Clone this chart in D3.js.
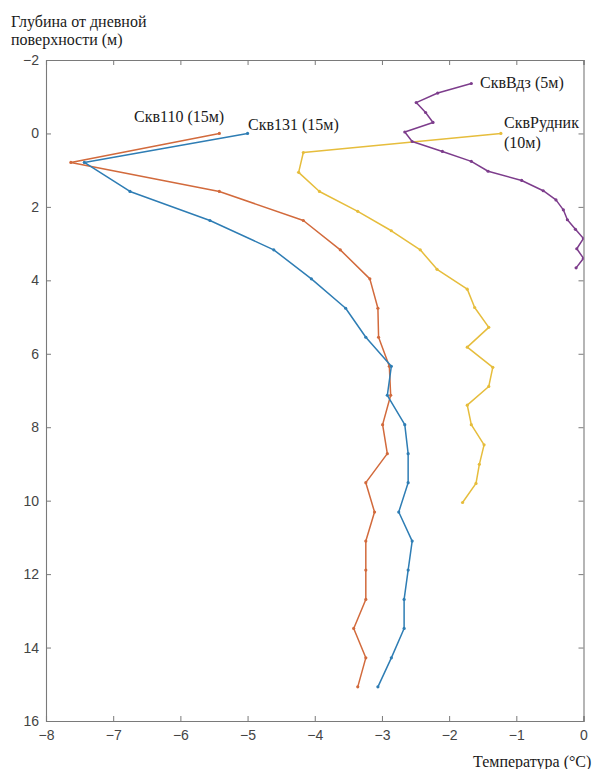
<!DOCTYPE html>
<html><head><meta charset="utf-8">
<script src="https://cdn.jsdelivr.net/npm/d3@7"></script>
<style>body{margin:0;background:#fff}svg{display:block}</style>
</head><body>
<svg id="c" width="595" height="769"></svg>
<script>
// Data
const depth110 = [0,0.79,1.58,2.37,3.17,3.96,4.76,5.55,6.34,7.13,7.93,8.72,9.51,10.31,11.1,11.89,12.69,13.48,14.28,15.07];
const temp110  = [-5.42,-7.63,-5.42,-4.17,-3.62,-3.18,-3.06,-3.05,-2.89,-2.87,-2.99,-2.92,-3.24,-3.11,-3.24,-3.24,-3.24,-3.42,-3.24,-3.36];
const depth131 = [0,0.79,1.58,2.37,3.17,3.96,4.76,5.55,6.34,7.13,7.93,8.72,9.51,10.31,11.1,11.89,12.69,13.48,14.28,15.07];
const temp131  = [-5.0,-7.43,-6.75,-5.56,-4.61,-4.05,-3.54,-3.24,-2.86,-2.92,-2.66,-2.61,-2.61,-2.75,-2.55,-2.61,-2.67,-2.67,-2.86,-3.06];
const depthRud = [0,0.52,1.06,1.58,2.12,2.65,3.17,3.7,4.24,4.74,5.28,5.82,6.37,6.89,7.4,7.93,8.48,9.01,9.53,10.05];
const tempRud  = [-1.23,-4.17,-4.24,-3.93,-3.36,-2.86,-2.43,-2.18,-1.73,-1.62,-1.41,-1.73,-1.35,-1.41,-1.73,-1.67,-1.48,-1.55,-1.6,-1.8];
const depthVdz = [-1.36,-1.1,-0.84,-0.57,-0.3,-0.04,0.22,0.49,0.76,1.03,1.28,1.56,1.81,2.08,2.35,2.61,2.86,3.14,3.4,3.66];
const tempVdz  = [-1.67,-2.17,-2.49,-2.35,-2.24,-2.66,-2.55,-2.1,-1.67,-1.42,-0.92,-0.6,-0.41,-0.3,-0.24,-0.12,0.0,-0.1,0.0,-0.11];
const xTicks = [-8,-7,-6,-5,-4,-3,-2,-1,0];
const yTicks = [-2,0,2,4,6,8,10,12,14,16];
const seriesNames = ["Скв110 (15м)","Скв131 (15м)","СквРудник","СквВдз (5м)"];

const series = [
  {t: temp110, d: depth110, color: "#d26a3c"},
  {t: temp131, d: depth131, color: "#2e7db4"},
  {t: tempRud, d: depthRud, color: "#e6bd3c"},
  {t: tempVdz, d: depthVdz, color: "#7d3d8c"}
];

const svg = d3.select("#c");
const L = 46, R = 583.5, T = 60, B = 721;
const x = d3.scaleLinear().domain([-8,0]).range([L,R]);
const y = d3.scaleLinear().domain([-2,16]).range([T,B]);

const axisColor = "#7a7a7a", labelColor = "#444";

svg.append("defs").append("clipPath").attr("id","clip")
  .append("rect").attr("x",L).attr("y",T).attr("width",R-L).attr("height",B-T);

const gx = svg.append("g").attr("transform",`translate(0,${B})`)
  .call(d3.axisBottom(x).tickValues(xTicks).tickSize(-5).tickPadding(8).tickFormat(d3.format("d")));
const gxt = svg.append("g").attr("transform",`translate(0,${T})`)
  .call(d3.axisTop(x).tickValues(xTicks).tickSize(-5).tickFormat(""));
const gy = svg.append("g").attr("transform",`translate(${L},0)`)
  .call(d3.axisLeft(y).tickValues(yTicks).tickSize(-5).tickPadding(7).tickFormat(d3.format("d")));
const gyr = svg.append("g").attr("transform",`translate(${R},0)`)
  .call(d3.axisRight(y).tickValues(yTicks).tickSize(-5).tickFormat(""));
[gx,gxt,gy,gyr].forEach(g=>{
  g.selectAll("path.domain").attr("stroke",axisColor).attr("stroke-width",1.1);
  g.selectAll(".tick line").attr("stroke",axisColor);
  g.selectAll(".tick text").attr("fill",labelColor).attr("font-family","Liberation Sans, Arial, sans-serif").attr("font-size",14);
});
gx.selectAll(".tick text").attr("dy","0.75em");

const line = d3.line().x(p=>x(p[0])).y(p=>y(p[1]));
const plot = svg.append("g").attr("clip-path","url(#clip)");
series.forEach(s=>{
  const pts = s.t.map((v,i)=>[v,s.d[i]]);
  plot.append("path").attr("d",line(pts)).attr("fill","none")
    .attr("stroke",s.color).attr("stroke-width",1.5).attr("stroke-linejoin","round");
  plot.selectAll(null).data(pts).enter().append("circle")
    .attr("cx",p=>x(p[0])).attr("cy",p=>y(p[1])).attr("r",1.6).attr("fill",s.color);
});

const serif = "Liberation Serif, Times New Roman, serif";
function txt(s,px,py,size,anchor){
  svg.append("text").attr("x",px).attr("y",py).attr("font-family",serif)
    .attr("font-size",size).attr("fill","#1a1a1a").attr("text-anchor",anchor||"start").text(s);
}
txt(seriesNames[0],134,122,16);
txt(seriesNames[1],248,130,16);
txt(seriesNames[3],480,88,16);
txt(seriesNames[2],504,128,16);
txt("(10м)",504,148,16);
txt("Глубина от дневной",11,27,16);
txt("поверхности (м)",11,45,16);
txt("Температура (°C)",473,767,16);
</script>
</body></html>
